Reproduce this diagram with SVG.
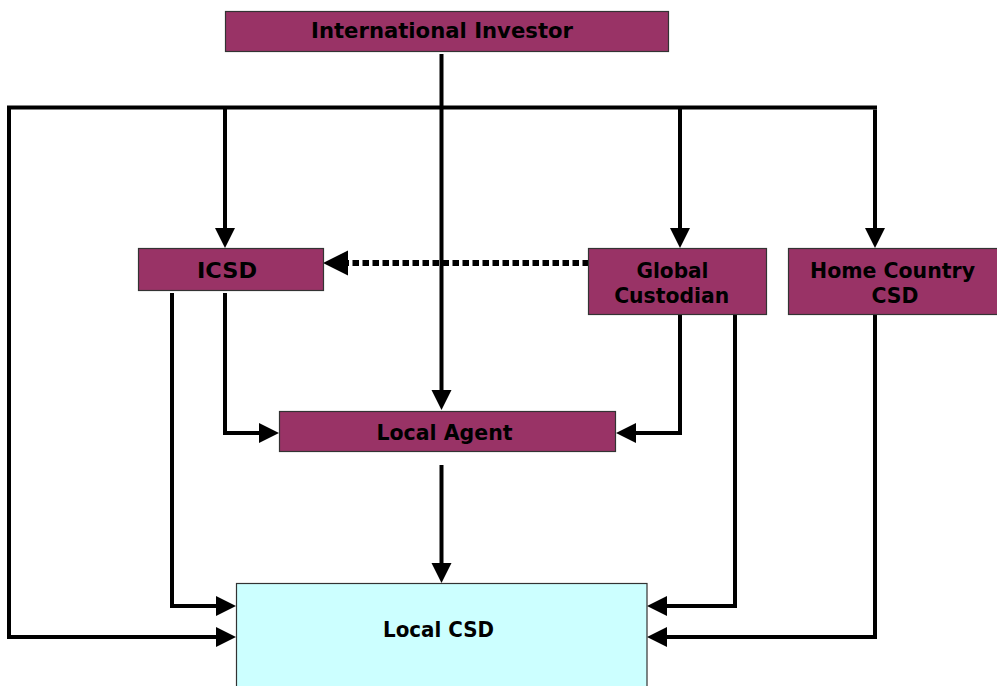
<svg xmlns="http://www.w3.org/2000/svg" width="997" height="686" viewBox="0 0 997 686">
<defs>
<style>
.box{fill:#993366;stroke:#333333;stroke-width:1.2}
.csd{fill:#CCFFFF;stroke:#333333;stroke-width:1.2}
.t{font-family:"DejaVu Sans","Verdana",sans-serif;font-weight:bold;font-size:21px;fill:#000;text-anchor:middle}
.c{fill:none;stroke:#000;stroke-width:4;stroke-linejoin:miter;stroke-linecap:butt}
.d{fill:none;stroke:#000;stroke-width:6;stroke-dasharray:6.5 3.5}
</style>
<marker id="a" markerUnits="userSpaceOnUse" markerWidth="20" markerHeight="20" refX="0" refY="10" orient="auto" overflow="visible">
<path d="M0,0 L20,10 L0,20 Z" fill="#000"/>
</marker>
<marker id="b" markerUnits="userSpaceOnUse" markerWidth="25" markerHeight="25" refX="0" refY="12.5" orient="auto" overflow="visible">
<path d="M0,0 L25,12.5 L0,25 Z" fill="#000"/>
</marker>
</defs>
<rect width="997" height="686" fill="#ffffff"/>
<g id="connectors">
<path class="c" d="M441.5,54 V390" marker-end="url(#a)"/>
<path class="c" d="M875,109.5 V228" marker-end="url(#a)"/>
<path class="c" d="M877,107.5 H9 V637 H216" marker-end="url(#a)"/>
<path class="c" d="M225,107.5 V228" marker-end="url(#a)"/>
<path class="c" d="M680,107.5 V228" marker-end="url(#a)"/>
<path class="c" d="M172,293 V606 H216" marker-end="url(#a)"/>
<path class="c" d="M225,293 V433 H259" marker-end="url(#a)"/>
<path class="c" d="M680,315 V433 H636" marker-end="url(#a)"/>
<path class="c" d="M735,315 V606 H667" marker-end="url(#a)"/>
<path class="c" d="M875,315 V637 H667" marker-end="url(#a)"/>
<path class="c" d="M441.5,465 V563" marker-end="url(#a)"/>
<path class="d" d="M589,263 H348" marker-end="url(#b)"/>
</g>
<g id="international-investor">
<rect class="box" x="225.5" y="11.5" width="443" height="40"/>
<text class="t" x="442" y="38" textLength="262" lengthAdjust="spacingAndGlyphs">International Investor</text>
</g>
<g id="icsd">
<rect class="box" x="138.5" y="248.5" width="185" height="42"/>
<text class="t" x="227" y="277.5" textLength="60" lengthAdjust="spacingAndGlyphs">ICSD</text>
</g>
<g id="global-custodian">
<rect class="box" x="588.5" y="248.5" width="178" height="66"/>
<text class="t" x="672.5" y="278" textLength="72" lengthAdjust="spacingAndGlyphs">Global</text>
<text class="t" x="671.7" y="302.5" textLength="115" lengthAdjust="spacingAndGlyphs">Custodian</text>
</g>
<g id="home-country-csd">
<rect class="box" x="788.5" y="248.5" width="215" height="66"/>
<text class="t" x="892.5" y="278" textLength="165" lengthAdjust="spacingAndGlyphs">Home Country</text>
<text class="t" x="895" y="302.5" textLength="47" lengthAdjust="spacingAndGlyphs">CSD</text>
</g>
<g id="local-agent">
<rect class="box" x="279.5" y="411.5" width="336" height="40"/>
<text class="t" x="444.5" y="439.5" textLength="136" lengthAdjust="spacingAndGlyphs">Local Agent</text>
</g>
<g id="local-csd">
<rect class="csd" x="236.5" y="583.5" width="410.5" height="110"/>
<text class="t" x="438.5" y="637" textLength="111" lengthAdjust="spacingAndGlyphs">Local CSD</text>
</g>
</svg>
